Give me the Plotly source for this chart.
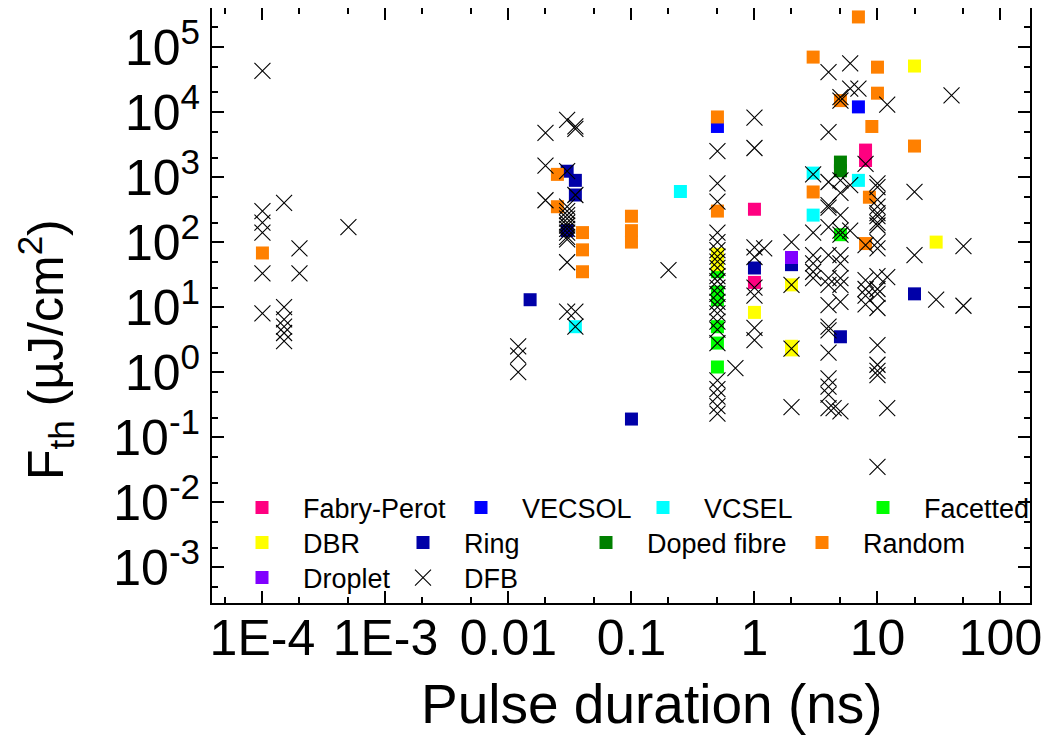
import plotly.graph_objects as go

# ---------------- data (pulse duration ns, threshold fluence uJ/cm^2) ----------------
fp_x = [1, 1, 8, 8]
fp_y = [320, 24, 2600, 1800]

vecsol_x = [0.5, 7]
vecsol_y = [6000, 12000]

vcsel_x = [0.035, 0.25, 3, 3, 7]
vcsel_y = [5, 600, 1150, 260, 890]

facet_x = [0.5, 0.5, 0.5, 0.5, 0.5, 0.5, 0.5, 5]
facet_y = [50, 35, 17, 13, 5, 2.8, 1.2, 130]

dbr_x = [0.5, 0.5, 1, 2, 2, 2, 20, 30]
dbr_y = [65, 45, 8.3, 22, 2.5, 2.2, 51000, 100]

ring_x = [0.015, 0.03, 0.035, 0.035, 0.03, 0.1, 1, 2, 5, 20]
ring_y = [13, 1230, 890, 530, 150, 0.19, 40, 45, 3.5, 16]

doped_x = [5, 5]
doped_y = [1700, 1250]

random_x = [1e-4, 0.025, 0.025, 0.04, 0.04, 0.04, 0.1, 0.1, 0.1, 0.5, 0.5,
            3, 3, 5, 7, 8.6, 8, 9, 10, 10, 20]
random_y = [68, 1100, 350, 140, 76, 35, 250, 150, 100, 8400, 300,
            70000, 590, 15000, 290000, 490, 95, 6000, 49000, 19500, 3000]

droplet_x = [2]
droplet_y = [58]

dfb_x = ([1e-4] * 6 + [1.5e-4] * 6 + [2e-4] * 2 + [5e-4] + [0.012] * 3 + [0.02] * 3
         + [0.03] * 14 + [0.035] * 5 + [0.2] + [0.5] * 24 + [0.7] + [1] * 8 + [1.2]
         + [2] * 4 + [3] * 6 + [4] * 17 + [4.4] + [5] * 13 + [6] * 4 + [7] + [8] * 6
         + [10] * 19 + [12] * 3 + [20] * 2 + [30] + [40] + [50] * 2)
dfb_y = ([43000, 300, 200, 140, 33, 8]
         + [400, 10, 6.5, 5, 4, 3]
         + [80, 33]
         + [170]
         + [2.5, 1.8, 1.0]
         + [4800, 1500, 440]
         + [7600, 1230, 350, 300, 260, 230, 200, 180, 160, 140, 120, 110, 49, 8.5]
         + [6000, 5500, 530, 8.5, 5]
         + [37]
         + [2500, 800, 420, 140, 100, 75, 60, 50, 40, 30, 25, 20, 16, 12, 10, 8, 6,
            4.5, 2.8, 0.75, 0.55, 0.42, 0.3, 0.23]
         + [1.15]
         + [8200, 2800, 83, 59, 20, 15, 4.8, 3.1]
         + [80]
         + [100, 22, 2.3, 0.29]
         + [1100, 140, 63, 47, 35, 28]
         + [41000, 4900, 840, 370, 340, 170, 63, 28, 22, 10.7, 5, 4.4, 2.0, 0.8, 0.6,
            0.45, 0.28]
         + [0.28]
         + [17000, 15000, 890, 570, 260, 150, 130, 63, 47, 28, 22, 12, 0.25]
         + [56000, 23000, 750, 150]
         + [23000]
         + [1600, 90, 26, 19, 15, 11]
         + [800, 700, 450, 350, 280, 250, 200, 180, 100, 80, 30, 19, 16, 9.7, 2.6, 1.3,
            1.05, 0.9, 0.035]
         + [13000, 29, 0.28]
         + [590, 63]
         + [13]
         + [18000]
         + [87, 10.5])

x_tickvals = [1e-4, 1e-3, 0.01, 0.1, 1, 10, 100]
x_ticktext = ["1E-4", "1E-3", "0.01", "0.1", "1", "10", "100"]
y_exps = [-3, -2, -1, 0, 1, 2, 3, 4, 5]

series = [
    ("Fabry-Perot", fp_x, fp_y, "#FF0080", "square"),
    ("VECSOL", vecsol_x, vecsol_y, "#0000FF", "square"),
    ("VCSEL", vcsel_x, vcsel_y, "#00FFFF", "square"),
    ("Facetted", facet_x, facet_y, "#00FF00", "square"),
    ("DBR", dbr_x, dbr_y, "#FFFF00", "square"),
    ("Ring", ring_x, ring_y, "#0000A8", "square"),
    ("Doped fibre", doped_x, doped_y, "#008000", "square"),
    ("Random", random_x, random_y, "#FF8000", "square"),
    ("Droplet", droplet_x, droplet_y, "#8000FF", "square"),
    ("DFB", dfb_x, dfb_y, "#000000", "x-thin-open"),
]

# page offset of the figure (default body margin of the html page)
OFF = 8
# legend symbol centres (page pixels) in the reference
legend_pos = [(262, 508), (481, 508), (663, 508), (883, 508),
              (262, 543), (423, 543), (606, 543), (822, 543),
              (262, 578), (423, 578)]

W, H = 1054 - OFF, 735 - OFF
L, T = 212 - OFF, 8 - OFF
pw, ph = 818, 595
R, B = W - L - pw, H - T - ph

FONT = "Liberation Sans, Arial, Helvetica, sans-serif"


def px_to_paper(px, py):
    return (px - OFF - L) / pw, (T + ph - (py - OFF)) / ph


fig = go.Figure()
layout_legends = {}
for i, (name, xs, ys, col, sym) in enumerate(series):
    lname = "legend" if i == 0 else f"legend{i + 1}"
    if sym == "square":
        marker = dict(symbol="square", size=13, color=col, line=dict(width=0))
    else:
        marker = dict(symbol="x-thin-open", size=16, color=col,
                      line=dict(width=1.1, color=col))
    fig.add_trace(go.Scatter(x=xs, y=ys, mode="markers", name=name,
                             marker=marker, legend=lname))
    lx, ly = px_to_paper(legend_pos[i][0] - 41, legend_pos[i][1])
    layout_legends[lname] = dict(
        x=lx, y=ly, xanchor="left", yanchor="middle",
        bgcolor="rgba(0,0,0,0)", borderwidth=0,
        font=dict(family=FONT, size=27, color="black"),
        itemwidth=72, tracegroupgap=0,
    )

axis_common = dict(
    type="log", showgrid=False, zeroline=False, automargin=False,
    showline=True, linecolor="black", linewidth=2, mirror="allticks",
    ticks="inside", ticklen=12, tickwidth=2, tickcolor="black",
    minor=dict(ticks="inside", ticklen=6, tickwidth=1.5, tickcolor="black", showgrid=False),
)

yt_x, yt_y = px_to_paper(45, 350)
xt_x, xt_y = px_to_paper(652, 704)

fig.update_layout(
    width=W, height=H,
    margin=dict(l=L, r=R, t=T, b=B, autoexpand=False),
    paper_bgcolor="white", plot_bgcolor="white",
    showlegend=True,
    font=dict(family=FONT, color="black"),
    xaxis=dict(**axis_common, range=[-4.41, 2.24],
               tickvals=x_tickvals, ticktext=x_ticktext, tickangle=0,
               tickfont=dict(size=50), ticklabelstandoff=-10),
    yaxis=dict(**axis_common, range=[-3.55, 5.6],
               tickvals=[10 ** e for e in y_exps],
               ticktext=[f"10<sup>{e}</sup>" for e in y_exps],
               tickfont=dict(size=50)),
    annotations=[
        dict(text="F<sub>th</sub> (µJ/cm<sup>2</sup>)", textangle=-90,
             xref="paper", yref="paper", x=yt_x, y=yt_y,
             xanchor="center", yanchor="middle", showarrow=False,
             font=dict(family=FONT, size=50, color="black")),
        dict(text="Pulse duration (ns)",
             xref="paper", yref="paper", x=xt_x, y=xt_y,
             xanchor="center", yanchor="middle", showarrow=False,
             font=dict(family=FONT, size=55, color="black")),
    ],
    **layout_legends,
)

fig.write_html("out.html")
